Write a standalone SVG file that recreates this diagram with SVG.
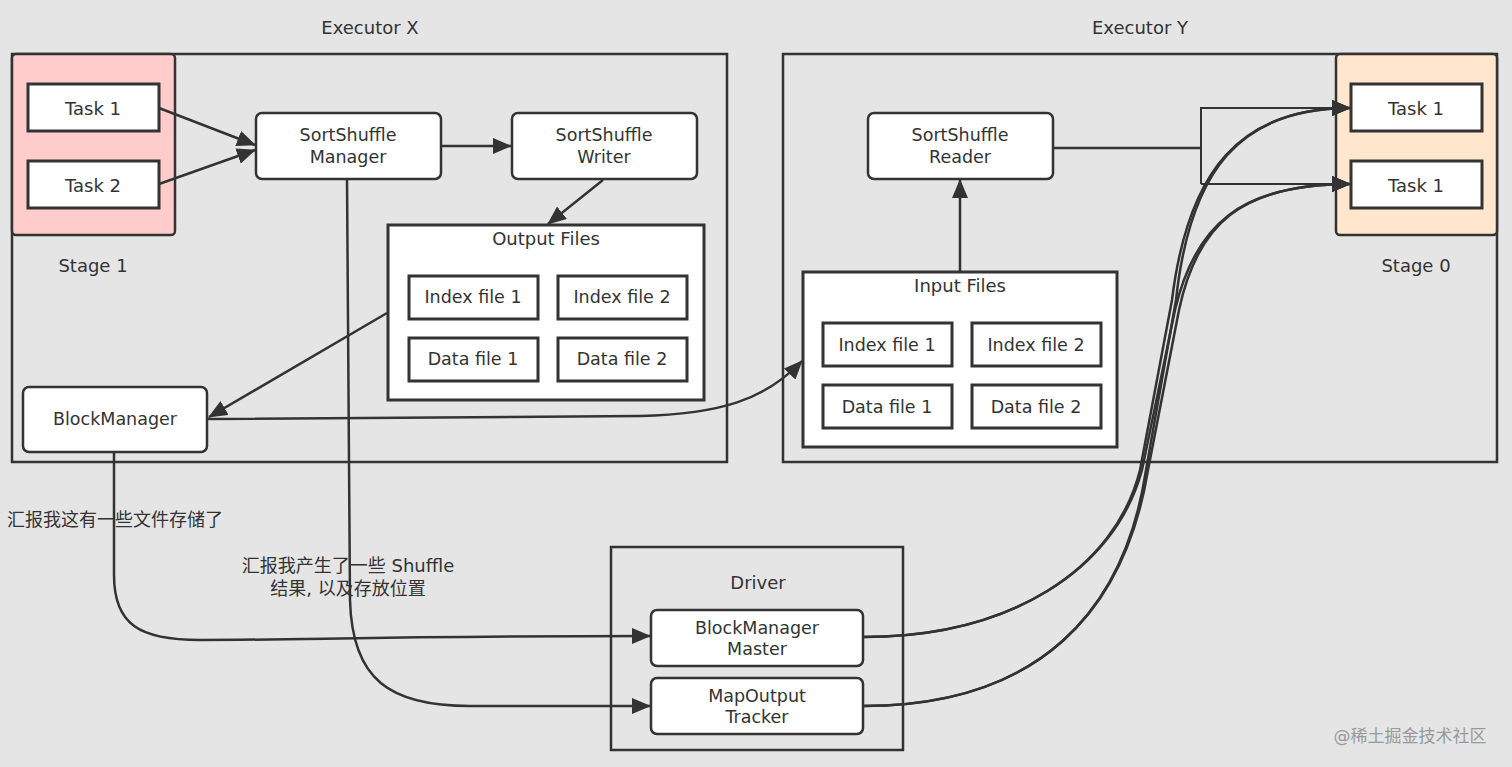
<svg xmlns="http://www.w3.org/2000/svg" width="1512" height="767" viewBox="0 0 1512 767">
<style>
text{font-family:"DejaVu Sans","Noto Sans CJK SC",sans-serif;font-size:18px;fill:#333;text-anchor:middle;dominant-baseline:central}
.nm{font-size:17.5px}
.cn{font-size:18px}
.frame{fill:none;stroke:#333;stroke-width:2.5}
.box{fill:#fff;stroke:#333;stroke-width:3}
.rbox{fill:#fff;stroke:#333;stroke-width:2.5}
.line{fill:none;stroke:#333;stroke-width:2.5}
.thin{fill:none;stroke:#333;stroke-width:2}
.arr{marker-end:url(#ah)}
</style>
<defs>
<marker id="ah" markerUnits="userSpaceOnUse" markerWidth="20" markerHeight="16" refX="18" refY="8" orient="auto">
<path d="M0,0 L19,8 L0,16 z" fill="#333"/>
</marker>
</defs>
<rect width="1512" height="767" fill="#e5e5e5"/>

<g id="executor-x">
<rect class="frame" x="12" y="54" width="715" height="408"/>
<text x="370" y="27">Executor X</text>
</g>
<g id="stage-1">
<rect x="12" y="54" width="163" height="181" rx="4" fill="#ffcccc" stroke="#333" stroke-width="2.5"/>
<text x="93" y="265">Stage 1</text>
</g>
<g id="x-task-1"><rect class="box" x="28" y="84" width="131" height="47"/><text x="93" y="108">Task 1</text></g>
<g id="x-task-2"><rect class="box" x="28" y="161" width="131" height="47"/><text x="93" y="185">Task 2</text></g>
<g id="sortshuffle-manager"><rect class="rbox" x="256" y="113" width="185" height="66" rx="6"/><text class="nm" x="348" y="135">SortShuffle</text><text class="nm" x="348" y="157">Manager</text></g>
<g id="sortshuffle-writer"><rect class="rbox" x="512" y="113" width="185" height="66" rx="6"/><text class="nm" x="604" y="135">SortShuffle</text><text class="nm" x="604" y="157">Writer</text></g>
<g id="output-files">
<rect class="box" x="388" y="225" width="316" height="175"/>
<text x="546" y="238">Output Files</text>
<rect class="box" x="409" y="276" width="129" height="43"/><text class="nm" x="473" y="297">Index file 1</text>
<rect class="box" x="558" y="276" width="129" height="43"/><text class="nm" x="622" y="297">Index file 2</text>
<rect class="box" x="409" y="338" width="129" height="43"/><text class="nm" x="473" y="359">Data file 1</text>
<rect class="box" x="558" y="338" width="129" height="43"/><text class="nm" x="622" y="359">Data file 2</text>
</g>
<g id="blockmanager"><rect class="rbox" x="23" y="387" width="184" height="65" rx="6"/><text class="nm" x="115" y="419">BlockManager</text></g>

<g id="executor-y">
<rect class="frame" x="783" y="54" width="714" height="408"/>
<text x="1140" y="27">Executor Y</text>
</g>
<g id="stage-0">
<rect x="1336" y="54" width="161" height="181" rx="4" fill="#ffe6cc" stroke="#333" stroke-width="2.5"/>
<text x="1416" y="265">Stage 0</text>
</g>
<g id="y-task-1a"><rect class="box" x="1351" y="84" width="131" height="47"/><text x="1416" y="108">Task 1</text></g>
<g id="y-task-1b"><rect class="box" x="1351" y="161" width="131" height="47"/><text x="1416" y="185">Task 1</text></g>
<g id="sortshuffle-reader"><rect class="rbox" x="868" y="113" width="185" height="66" rx="6"/><text class="nm" x="960" y="135">SortShuffle</text><text class="nm" x="960" y="157">Reader</text></g>
<g id="input-files">
<rect class="box" x="803" y="272" width="314" height="175"/>
<text x="960" y="285">Input Files</text>
<rect class="box" x="823" y="323" width="129" height="43"/><text class="nm" x="887" y="345">Index file 1</text>
<rect class="box" x="972" y="323" width="129" height="43"/><text class="nm" x="1036" y="345">Index file 2</text>
<rect class="box" x="823" y="385" width="129" height="43"/><text class="nm" x="887" y="407">Data file 1</text>
<rect class="box" x="972" y="385" width="129" height="43"/><text class="nm" x="1036" y="407">Data file 2</text>
</g>

<g id="driver">
<rect class="frame" x="611" y="547" width="292" height="203"/>
<text x="758" y="582">Driver</text>
</g>
<g id="blockmanager-master"><rect class="rbox" x="651" y="610" width="212" height="56" rx="6"/><text class="nm" x="757" y="628">BlockManager</text><text class="nm" x="757" y="649">Master</text></g>
<g id="mapoutput-tracker"><rect class="rbox" x="651" y="678" width="212" height="56" rx="6"/><text class="nm" x="757" y="696">MapOutput</text><text class="nm" x="757" y="717">Tracker</text></g>

<g id="connectors">
<path class="line arr" d="M159,108 L255,145"/>
<path class="line arr" d="M159,184 L255,150"/>
<path class="line arr" d="M441,146 L511,146"/>
<path class="line arr" d="M603,180 L548,224"/>
<path class="line arr" d="M387,313 L209,417"/>
<path class="line arr" d="M207,419 L640,416 C720,414 765,400 802,361"/>
<path class="line arr" d="M960,272 L960,180"/>
<path class="line" d="M1053,148 L1201,148"/>
<path class="thin" d="M1201,107 L1201,184"/>
<path class="thin arr" d="M1201,108 L1350,108"/>
<path class="thin arr" d="M1201,184 L1350,184"/>
<path class="line arr" d="M114,452 L114,575 C114,625 140,640 200,640 C300,640 400,636 650,636"/>
<path class="line arr" d="M347,179 L350,600 C352,680 390,706 470,706 L650,706"/>
<path class="line arr" d="M863,637 C1010,637 1115,570 1140,470 L1172,300 C1188,170 1240,108 1350,108"/>
<path class="line arr" d="M863,637 C1010,637 1115,570 1142,470 L1175,310 C1195,225 1240,184 1350,184"/>
<path class="line arr" d="M863,706 C1040,706 1125,610 1146,470 L1176,300 C1190,170 1240,108 1350,108"/>
<path class="line arr" d="M863,706 C1040,706 1125,610 1148,470 L1179,310 C1197,225 1240,184 1350,184"/>
</g>

<g id="labels">
<text class="cn" x="115" y="519">汇报我这有一些文件存储了</text>
<text class="cn" x="348" y="565">汇报我产生了一些 Shuffle</text>
<text class="cn" x="348" y="588">结果, 以及存放位置</text>
<text x="1410" y="736" style="fill:#999;font-size:17px">@稀土掘金技术社区</text>
</g>
</svg>
